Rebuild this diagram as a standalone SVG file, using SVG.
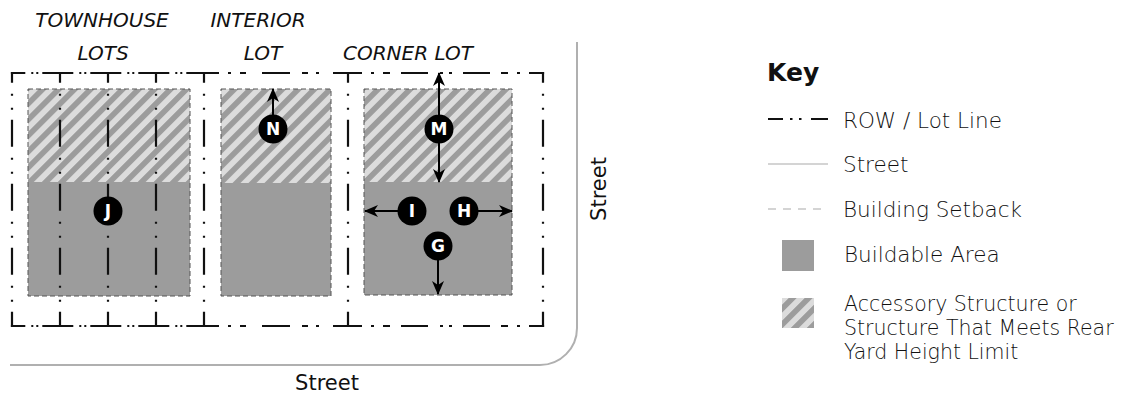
<svg xmlns="http://www.w3.org/2000/svg" width="1134" height="398" viewBox="0 0 1134 398">
<defs>
<pattern id="hatch" patternUnits="userSpaceOnUse" width="11.3" height="11.3" patternTransform="rotate(45)">
<rect width="11.3" height="11.3" fill="#dcdcdc"/>
<rect width="5.6" height="11.3" fill="#9c9c9c"/>
</pattern>
<marker id="ah" viewBox="0 0 14 12" refX="13" refY="6" markerWidth="14" markerHeight="12" markerUnits="userSpaceOnUse" orient="auto">
<path d="M0,0 L14,6 L0,12 L4,6 Z" fill="#000"/>
</marker>
</defs>
<style>
.lot{stroke:#111;stroke-width:2.2;fill:none}
.v{stroke-dasharray:27 11 2 12 2 10;stroke-dashoffset:16.1}
.h{stroke-dasharray:31 6 2 3 2 4;stroke-dashoffset:16.6}
.build{fill:#9c9c9c}
.acc{fill:url(#hatch)}
.sb{fill:none;stroke:#555;stroke-width:1;stroke-dasharray:5 3}
.title{font-family:"DejaVu Sans","Liberation Sans",sans-serif;font-style:italic;font-weight:200;font-size:20px;text-anchor:middle;fill:#111}
.lab{font-family:"DejaVu Sans","Liberation Sans",sans-serif;font-weight:200;font-size:21.5px;fill:#111}
.lab2{font-family:"DejaVu Sans","Liberation Sans",sans-serif;font-weight:200;font-size:20.5px;fill:#111}
.street{font-family:"DejaVu Sans","Liberation Sans",sans-serif;font-size:21px;fill:#111;text-anchor:middle}
.badge{fill:#000}
.bl{font-family:"DejaVu Sans","Liberation Sans",sans-serif;font-weight:bold;font-size:17px;fill:#fff;text-anchor:middle}
.arr{stroke:#000;stroke-width:2;fill:none;marker-end:url(#ah)}
</style>
<rect width="1134" height="398" fill="#fff"/>

<g id="street-edge">
<path d="M10,365 H540 A37,37 0 0 0 577,328 V42" fill="none" stroke="#b0b0b0" stroke-width="2"/>
<text class="street" x="327" y="390">Street</text>
<text class="street" transform="translate(606,189) rotate(-90)" x="0" y="0">Street</text>
</g>

<g id="townhouse-lots">
<text class="title" x="102" y="27">TOWNHOUSE</text>
<text class="title" x="103" y="60">LOTS</text>
<rect class="acc" x="28" y="89" width="162" height="93"/>
<rect class="build" x="28" y="182" width="162" height="114"/>
<rect class="sb" x="28" y="89" width="162" height="207"/>
</g>

<g id="interior-lot">
<text class="title" x="258" y="27">INTERIOR</text>
<text class="title" x="263" y="60">LOT</text>
<rect class="acc" x="221" y="89" width="110" height="94"/>
<rect class="build" x="221" y="183" width="110" height="113"/>
<rect class="sb" x="221" y="89" width="110" height="207"/>
</g>

<g id="corner-lot">
<text class="title" x="408" y="60">CORNER LOT</text>
<rect class="acc" x="364" y="89" width="148" height="93"/>
<rect class="build" x="364" y="182" width="148" height="113"/>
<rect class="sb" x="364" y="89" width="148" height="206"/>
</g>

<g id="lot-lines">
<g class="lot v">
<line x1="12" y1="71.9" x2="12" y2="327.1"/>
<line x1="60" y1="71.9" x2="60" y2="327.1"/>
<line x1="108" y1="71.9" x2="108" y2="327.1"/>
<line x1="156" y1="71.9" x2="156" y2="327.1"/>
<line x1="204" y1="71.9" x2="204" y2="327.1"/>
<line x1="348" y1="71.9" x2="348" y2="327.1"/>
<line x1="543" y1="71.9" x2="543" y2="327.1"/>
</g>
<g class="lot h">
<line x1="10.9" y1="73" x2="204" y2="73"/>
<line x1="10.9" y1="326" x2="204" y2="326"/>
</g>
<path class="lot" d="M204,73 H219 M228,73 h3 M240,73 h6 M262,73 H290 M302,73 h6 M316,73 h3 M333,73 H362 M371,73 h3 M383,73 h7 M401,73 H428 M440,73 h3 M449,73 h3 M463,73 H490 M501,73 h7 M517,73 h3 M529,73 H544.1"/>
<path class="lot" d="M204,326 H219 M228,326 h3 M240,326 h6 M262,326 H290 M302,326 h6 M316,326 h3 M333,326 H362 M371,326 h3 M383,326 h7 M401,326 H428 M440,326 h3 M449,326 h3 M463,326 H490 M501,326 h7 M517,326 h3 M529,326 H544.1"/>
</g>

<g id="connectors">
<line class="arr" x1="273" y1="115" x2="273" y2="89"/>
<line class="arr" x1="439" y1="115" x2="439" y2="73"/>
<line class="arr" x1="439" y1="143" x2="439" y2="182"/>
<line class="arr" x1="398" y1="211" x2="365" y2="211"/>
<line class="arr" x1="478" y1="211" x2="512" y2="211"/>
<line class="arr" x1="438" y1="260" x2="438" y2="294"/>
</g>

<g id="badge-J"><circle class="badge" cx="108" cy="211" r="14.5"/><text class="bl" x="108" y="217">J</text></g>
<g id="badge-N"><circle class="badge" cx="273" cy="129" r="14.5"/><text class="bl" x="273" y="135">N</text></g>
<g id="badge-M"><circle class="badge" cx="439" cy="129" r="14.5"/><text class="bl" x="439" y="135">M</text></g>
<g id="badge-I"><circle class="badge" cx="412" cy="211" r="14.5"/><text class="bl" x="412" y="217">I</text></g>
<g id="badge-H"><circle class="badge" cx="464" cy="211" r="14.5"/><text class="bl" x="464" y="217">H</text></g>
<g id="badge-G"><circle class="badge" cx="438" cy="246" r="14.5"/><text class="bl" x="438" y="252">G</text></g>

<g id="key">
<text x="767" y="81" font-family="'DejaVu Sans','Liberation Sans',sans-serif" font-weight="bold" font-size="25" fill="#111">Key</text>
<g id="key-row">
<path class="lot" d="M768,119 H783 M790,119 h2.5 M799,119 h2.5 M811,119 H828"/>
<text class="lab" x="843" y="128">ROW / Lot Line</text>
</g>
<g id="key-street">
<line x1="768" y1="164" x2="828" y2="164" stroke="#aaa" stroke-width="1.2"/>
<text class="lab" x="843" y="172">Street</text>
</g>
<g id="key-setback">
<line x1="768" y1="209" x2="828" y2="209" stroke="#aaa" stroke-width="1.2" stroke-dasharray="8 7"/>
<text class="lab" x="843" y="217">Building Setback</text>
</g>
<g id="key-buildable">
<rect class="build" x="782" y="240" width="32" height="31"/>
<text class="lab" x="844" y="262">Buildable Area</text>
</g>
<g id="key-accessory">
<rect class="acc" x="782" y="298" width="32" height="30"/>
<text class="lab2" x="844" y="311">Accessory Structure or</text>
<text class="lab2" x="844" y="335">Structure That Meets Rear</text>
<text class="lab2" x="844" y="359">Yard Height Limit</text>
</g>
</g>
</svg>
